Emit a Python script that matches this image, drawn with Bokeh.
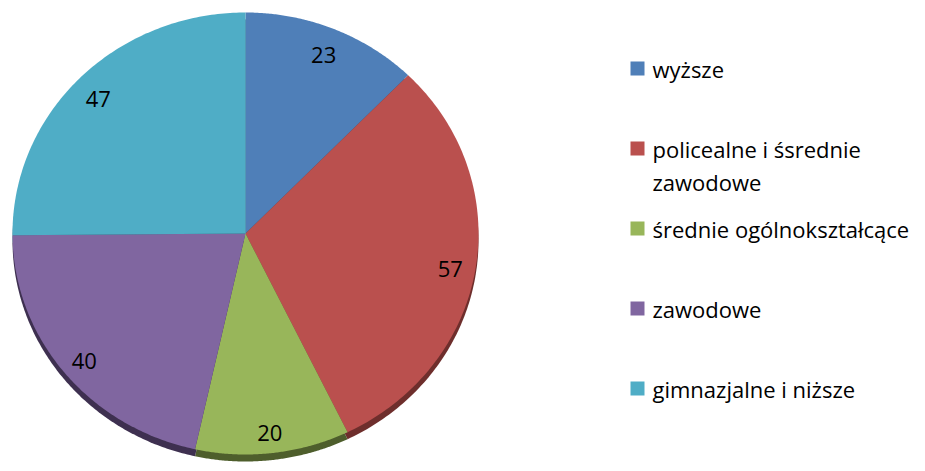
import numpy as np
from bokeh.plotting import figure
from bokeh.models import Range1d, ColumnDataSource
from bokeh.core.properties import value
from bokeh.embed import file_html
from bokeh.resources import INLINE

categories = ["wyższe", "policealne i śsrednie\nzawodowe", "średnie ogólnokształcące",
              "zawodowe", "gimnazjalne i niższe"]
values = [23, 57, 20, 40, 47]
colors = ["#4F7FB8", "#BA504E", "#98B65A", "#8066A0", "#4FADC6"]
side_colors = ["#2E4A6E", "#6E2E2C", "#4E5E2C", "#3E3050", "#2A6070"]

W, H = 917, 463
p = figure(width=W, height=H, output_backend="svg", toolbar_location=None,
           x_range=Range1d(0, W), y_range=Range1d(H, 0),
           min_border=0)
p.axis.visible = False
p.grid.visible = False
p.outline_line_color = None
p.background_fill_color = "white"

cx, cy, rx, ry, depth = 245, 233, 233, 221, 7
total = float(sum(values))
cum = np.concatenate([[0], np.cumsum(values)]) / total
starts = np.pi / 2 - 2 * np.pi * cum[:-1]
ends = np.pi / 2 - 2 * np.pi * cum[1:]

def slice_xy(a0, a1, dy=0):
    t = np.linspace(a0, a1, 120)
    xs = [cx] + list(cx + rx * np.cos(t)) + [cx]
    ys = [cy + dy] + list(cy + dy - ry * np.sin(t)) + [cy + dy]
    return xs, ys

sx, sy = [], []
for a0, a1 in zip(starts, ends):
    xs, ys = slice_xy(a0, a1, depth)
    sx.append(xs); sy.append(ys)
p.patches(sx, sy, fill_color=side_colors, line_color=None)

tx, ty = [], []
for a0, a1 in zip(starts, ends):
    xs, ys = slice_xy(a0, a1)
    tx.append(xs); ty.append(ys)
p.patches(tx, ty, fill_color=colors, line_color=None)

FONT = value("Open Sans")
mids = (starts + ends) / 2
lab = ColumnDataSource(dict(x=cx + 0.89 * rx * np.cos(mids), y=cy + 4 - 0.89 * ry * np.sin(mids),
                            t=[str(v) for v in values]))
p.text("x", "y", text="t", source=lab, text_font=FONT, text_font_size="22px",
       text_color="black", text_align="center", text_baseline="middle")

FS = 22
LINE = 33
rows = [68 + 80 * i for i in range(len(categories))]
leg = ColumnDataSource(dict(y=rows, c=colors))
p.rect(x=637, y="y", width=14, height=14, fill_color="c", line_color=None, source=leg)

line_y, line_t = [], []
for r, c in zip(rows, categories):
    for k, part in enumerate(c.split("\n")):
        line_y.append(r + k * LINE)
        line_t.append(part)
legt = ColumnDataSource(dict(y=line_y, t=line_t))
p.text(x=652, y="y", text="t", source=legt, text_font=FONT, text_font_size=f"{FS}px",
       text_color="black", text_align="left", text_baseline="middle")

open("out.html", "w").write(file_html(p, INLINE))
